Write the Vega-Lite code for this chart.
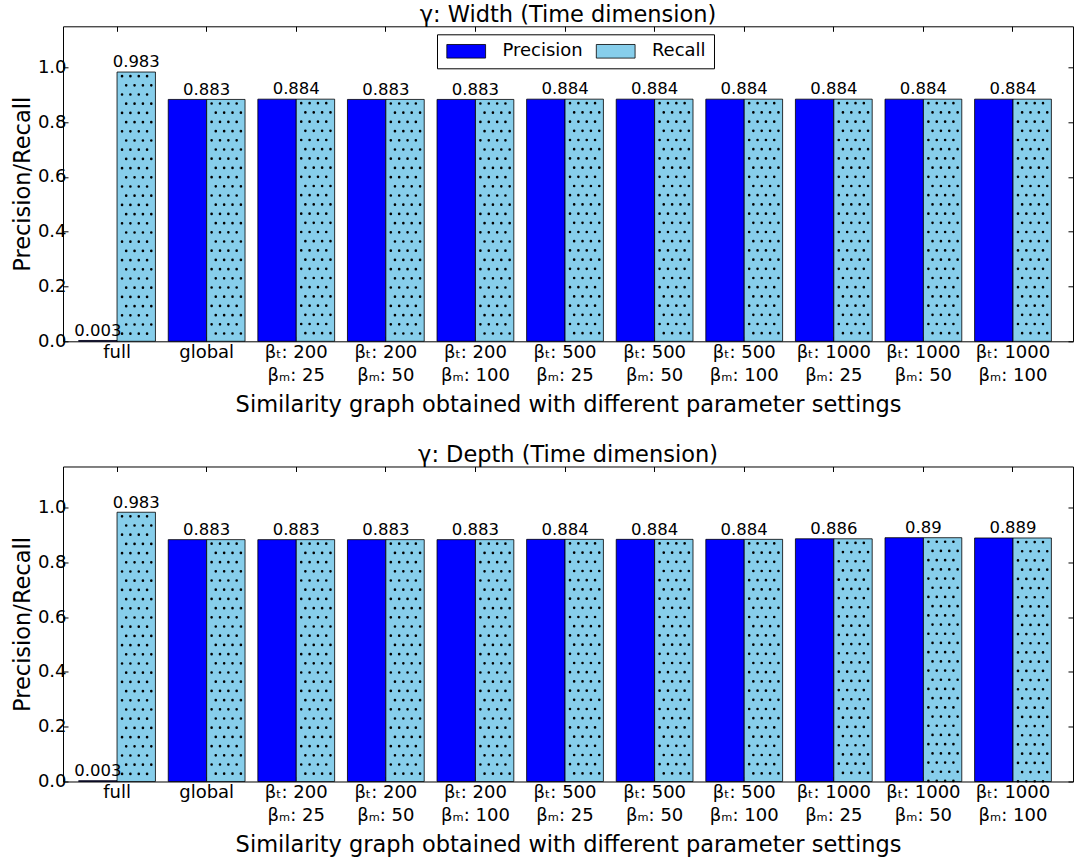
{
  "$schema": "https://vega.github.io/schema/vega-lite/v6.json",
  "padding": {"left": 10, "top": 3.3, "right": 0, "bottom": 0},
  "datasets": {
    "width": [
      {"setting": "full", "series": "Precision", "value": 0.003},
      {"setting": "full", "series": "Recall", "value": 0.983},
      {"setting": "global", "series": "Precision", "value": 0.883},
      {"setting": "global", "series": "Recall", "value": 0.883},
      {"setting": "βₜ: 200\nβₘ: 25", "series": "Precision", "value": 0.884},
      {"setting": "βₜ: 200\nβₘ: 25", "series": "Recall", "value": 0.884},
      {"setting": "βₜ: 200\nβₘ: 50", "series": "Precision", "value": 0.883},
      {"setting": "βₜ: 200\nβₘ: 50", "series": "Recall", "value": 0.883},
      {"setting": "βₜ: 200\nβₘ: 100", "series": "Precision", "value": 0.883},
      {"setting": "βₜ: 200\nβₘ: 100", "series": "Recall", "value": 0.883},
      {"setting": "βₜ: 500\nβₘ: 25", "series": "Precision", "value": 0.884},
      {"setting": "βₜ: 500\nβₘ: 25", "series": "Recall", "value": 0.884},
      {"setting": "βₜ: 500\nβₘ: 50", "series": "Precision", "value": 0.884},
      {"setting": "βₜ: 500\nβₘ: 50", "series": "Recall", "value": 0.884},
      {"setting": "βₜ: 500\nβₘ: 100", "series": "Precision", "value": 0.884},
      {"setting": "βₜ: 500\nβₘ: 100", "series": "Recall", "value": 0.884},
      {"setting": "βₜ: 1000\nβₘ: 25", "series": "Precision", "value": 0.884},
      {"setting": "βₜ: 1000\nβₘ: 25", "series": "Recall", "value": 0.884},
      {"setting": "βₜ: 1000\nβₘ: 50", "series": "Precision", "value": 0.884},
      {"setting": "βₜ: 1000\nβₘ: 50", "series": "Recall", "value": 0.884},
      {"setting": "βₜ: 1000\nβₘ: 100", "series": "Precision", "value": 0.884},
      {"setting": "βₜ: 1000\nβₘ: 100", "series": "Recall", "value": 0.884}
    ],
    "depth": [
      {"setting": "full", "series": "Precision", "value": 0.003},
      {"setting": "full", "series": "Recall", "value": 0.983},
      {"setting": "global", "series": "Precision", "value": 0.883},
      {"setting": "global", "series": "Recall", "value": 0.883},
      {"setting": "βₜ: 200\nβₘ: 25", "series": "Precision", "value": 0.883},
      {"setting": "βₜ: 200\nβₘ: 25", "series": "Recall", "value": 0.883},
      {"setting": "βₜ: 200\nβₘ: 50", "series": "Precision", "value": 0.883},
      {"setting": "βₜ: 200\nβₘ: 50", "series": "Recall", "value": 0.883},
      {"setting": "βₜ: 200\nβₘ: 100", "series": "Precision", "value": 0.883},
      {"setting": "βₜ: 200\nβₘ: 100", "series": "Recall", "value": 0.883},
      {"setting": "βₜ: 500\nβₘ: 25", "series": "Precision", "value": 0.884},
      {"setting": "βₜ: 500\nβₘ: 25", "series": "Recall", "value": 0.884},
      {"setting": "βₜ: 500\nβₘ: 50", "series": "Precision", "value": 0.884},
      {"setting": "βₜ: 500\nβₘ: 50", "series": "Recall", "value": 0.884},
      {"setting": "βₜ: 500\nβₘ: 100", "series": "Precision", "value": 0.884},
      {"setting": "βₜ: 500\nβₘ: 100", "series": "Recall", "value": 0.884},
      {"setting": "βₜ: 1000\nβₘ: 25", "series": "Precision", "value": 0.886},
      {"setting": "βₜ: 1000\nβₘ: 25", "series": "Recall", "value": 0.886},
      {"setting": "βₜ: 1000\nβₘ: 50", "series": "Precision", "value": 0.89},
      {"setting": "βₜ: 1000\nβₘ: 50", "series": "Recall", "value": 0.89},
      {"setting": "βₜ: 1000\nβₘ: 100", "series": "Precision", "value": 0.889},
      {"setting": "βₜ: 1000\nβₘ: 100", "series": "Recall", "value": 0.889}
    ]
  },
  "config": {
    "font": "DejaVu Sans",
    "view": {"stroke": "black", "strokeWidth": 1},
    "axis": {
      "grid": false,
      "labelFont": "DejaVu Sans",
      "titleFont": "DejaVu Sans",
      "labelColor": "black",
      "titleColor": "black",
      "tickColor": "black",
      "titleFontWeight": "normal",
      "labelFontSize": 18,
      "titleFontSize": 22.5
    },
    "title": {"font": "DejaVu Sans", "fontSize": 22.5, "fontWeight": "normal", "color": "black", "offset": -0.9},
    "legend": {"labelFont": "DejaVu Sans"}
  },
  "spacing": 27.2,
  "resolve": {"legend": {"color": "independent"}},
  "vconcat": [
    {
      "title": {"text": "γ: Width (Time dimension)"},
      "width": 1010,
      "height": 315,
      "data": {"name": "width"},
      "resolve": {"axis": {"x": "independent", "y": "independent"}},
      "layer": [
        {
          "mark": {"type": "bar", "stroke": "black", "strokeWidth": 0.8},
          "encoding": {
            "x": {
              "field": "setting", "type": "nominal",
              "scale": {"domain": ["full", "global", "βₜ: 200\nβₘ: 25", "βₜ: 200\nβₘ: 50", "βₜ: 200\nβₘ: 100", "βₜ: 500\nβₘ: 25", "βₜ: 500\nβₘ: 50", "βₜ: 500\nβₘ: 100", "βₜ: 1000\nβₘ: 25", "βₜ: 1000\nβₘ: 50", "βₜ: 1000\nβₘ: 100"], "paddingInner": 0.143, "paddingOuter": 0.208, "align": 0.42},
              "axis": {"title": "Similarity graph obtained with different parameter settings", "labelAngle": 0, "labelExpr": "split(datum.value, '\\n')", "labelLineHeight": 23, "labelBaseline": "top", "labelPadding": 7, "tickSize": -5, "domain": false, "titlePadding": 9}
            },
            "xOffset": {"field": "series", "type": "nominal", "scale": {"domain": ["Precision", "Recall"]}},
            "y": {
              "field": "value", "type": "quantitative",
              "scale": {"domain": [0, 1.15], "nice": false},
              "axis": {"title": "Precision/Recall", "values": [0, 0.2, 0.4, 0.6, 0.8, 1.0], "format": ".1f", "tickSize": -5, "labelPadding": 2, "domain": false, "titlePadding": 3}
            },
            "color": {
              "field": "series", "type": "nominal",
              "scale": {"domain": ["Precision", "Recall"], "range": ["#0000ff", "#87ceeb"]},
              "legend": {"title": null, "orient": "none", "legendX": 374, "legendY": 8, "direction": "horizontal", "columns": 2, "columnPadding": 11.5, "symbolOffset": 12.2, "labelOffset": 27.2, "labelFontSize": 18, "labelColor": "black", "symbolType": "M-2.85,-1H2.85V1H-2.85Z", "symbolSize": 185, "symbolStrokeColor": "black", "symbolStrokeWidth": 0.8, "symbolOpacity": 1, "strokeColor": "black", "fillColor": "white", "padding": 8, "cornerRadius": 0}
            }
          }
        },
        {"transform": [{"filter": "datum.series === 'Recall'"}], "mark": {"type": "rule", "color": "#000000", "strokeWidth": 2.6, "strokeCap": "round", "strokeDash": [0.1, 18.3], "strokeDashOffset": 14.4}, "encoding": {"x": {"field": "setting", "type": "nominal", "bandPosition": 0.565, "axis": null}, "y": {"field": "value", "type": "quantitative", "axis": null}, "y2": {"datum": 0}}},
        {"transform": [{"filter": "datum.series === 'Recall'"}], "mark": {"type": "rule", "color": "#000000", "strokeWidth": 2.6, "strokeCap": "round", "strokeDash": [0.1, 18.3], "strokeDashOffset": 5.2}, "encoding": {"x": {"field": "setting", "type": "nominal", "bandPosition": 0.619, "axis": null}, "y": {"field": "value", "type": "quantitative", "axis": null}, "y2": {"datum": 0}}},
        {"transform": [{"filter": "datum.series === 'Recall'"}], "mark": {"type": "rule", "color": "#000000", "strokeWidth": 2.6, "strokeCap": "round", "strokeDash": [0.1, 18.3], "strokeDashOffset": 14.4}, "encoding": {"x": {"field": "setting", "type": "nominal", "bandPosition": 0.674, "axis": null}, "y": {"field": "value", "type": "quantitative", "axis": null}, "y2": {"datum": 0}}},
        {"transform": [{"filter": "datum.series === 'Recall'"}], "mark": {"type": "rule", "color": "#000000", "strokeWidth": 2.6, "strokeCap": "round", "strokeDash": [0.1, 18.3], "strokeDashOffset": 5.2}, "encoding": {"x": {"field": "setting", "type": "nominal", "bandPosition": 0.728, "axis": null}, "y": {"field": "value", "type": "quantitative", "axis": null}, "y2": {"datum": 0}}},
        {"transform": [{"filter": "datum.series === 'Recall'"}], "mark": {"type": "rule", "color": "#000000", "strokeWidth": 2.6, "strokeCap": "round", "strokeDash": [0.1, 18.3], "strokeDashOffset": 14.4}, "encoding": {"x": {"field": "setting", "type": "nominal", "bandPosition": 0.783, "axis": null}, "y": {"field": "value", "type": "quantitative", "axis": null}, "y2": {"datum": 0}}},
        {"transform": [{"filter": "datum.series === 'Recall'"}], "mark": {"type": "rule", "color": "#000000", "strokeWidth": 2.6, "strokeCap": "round", "strokeDash": [0.1, 18.3], "strokeDashOffset": 5.2}, "encoding": {"x": {"field": "setting", "type": "nominal", "bandPosition": 0.837, "axis": null}, "y": {"field": "value", "type": "quantitative", "axis": null}, "y2": {"datum": 0}}},
        {"transform": [{"filter": "datum.series === 'Recall'"}], "mark": {"type": "rule", "color": "#000000", "strokeWidth": 2.6, "strokeCap": "round", "strokeDash": [0.1, 18.3], "strokeDashOffset": 14.4}, "encoding": {"x": {"field": "setting", "type": "nominal", "bandPosition": 0.891, "axis": null}, "y": {"field": "value", "type": "quantitative", "axis": null}, "y2": {"datum": 0}}},
        {"transform": [{"filter": "datum.series === 'Recall'"}], "mark": {"type": "rule", "color": "#000000", "strokeWidth": 2.6, "strokeCap": "round", "strokeDash": [0.1, 18.3], "strokeDashOffset": 5.2}, "encoding": {"x": {"field": "setting", "type": "nominal", "bandPosition": 0.946, "axis": null}, "y": {"field": "value", "type": "quantitative", "axis": null}, "y2": {"datum": 0}}},
        {
          "transform": [{"filter": "datum.setting === 'full'"}],
          "mark": {"type": "text", "baseline": "alphabetic", "dy": -4.7, "fontSize": 16.5, "color": "black"},
          "encoding": {
            "x": {"field": "setting", "type": "nominal", "axis": null},
            "xOffset": {"field": "series", "type": "nominal"},
            "y": {"field": "value", "type": "quantitative", "axis": null},
            "text": {"field": "value", "type": "quantitative", "format": "~g"}
          }
        },
        {
          "transform": [{"filter": "datum.setting !== 'full' && datum.series === 'Recall'"}],
          "mark": {"type": "text", "baseline": "alphabetic", "dy": -4.7, "fontSize": 16.5, "color": "black"},
          "encoding": {
            "x": {"field": "setting", "type": "nominal", "axis": {"orient": "top", "labels": false, "title": null, "domain": false, "tickSize": -5}},
            "y": {"field": "value", "type": "quantitative", "axis": {"orient": "right", "labels": false, "title": null, "domain": false, "tickSize": -5, "values": [0, 0.2, 0.4, 0.6, 0.8, 1.0]}},
            "text": {"field": "value", "type": "quantitative", "format": "~g"}
          }
        }
      ]
    },
    {
      "title": {"text": "γ: Depth (Time dimension)"},
      "width": 1010,
      "height": 315,
      "data": {"name": "depth"},
      "resolve": {"axis": {"x": "independent", "y": "independent"}},
      "layer": [
        {
          "mark": {"type": "bar", "stroke": "black", "strokeWidth": 0.8},
          "encoding": {
            "x": {
              "field": "setting", "type": "nominal",
              "scale": {"domain": ["full", "global", "βₜ: 200\nβₘ: 25", "βₜ: 200\nβₘ: 50", "βₜ: 200\nβₘ: 100", "βₜ: 500\nβₘ: 25", "βₜ: 500\nβₘ: 50", "βₜ: 500\nβₘ: 100", "βₜ: 1000\nβₘ: 25", "βₜ: 1000\nβₘ: 50", "βₜ: 1000\nβₘ: 100"], "paddingInner": 0.143, "paddingOuter": 0.208, "align": 0.42},
              "axis": {"title": "Similarity graph obtained with different parameter settings", "labelAngle": 0, "labelExpr": "split(datum.value, '\\n')", "labelLineHeight": 23, "labelBaseline": "top", "labelPadding": 7, "tickSize": -5, "domain": false, "titlePadding": 9}
            },
            "xOffset": {"field": "series", "type": "nominal", "scale": {"domain": ["Precision", "Recall"]}},
            "y": {
              "field": "value", "type": "quantitative",
              "scale": {"domain": [0, 1.15], "nice": false},
              "axis": {"title": "Precision/Recall", "values": [0, 0.2, 0.4, 0.6, 0.8, 1.0], "format": ".1f", "tickSize": -5, "labelPadding": 2, "domain": false, "titlePadding": 3}
            },
            "color": {
              "field": "series", "type": "nominal",
              "scale": {"domain": ["Precision", "Recall"], "range": ["#0000ff", "#87ceeb"]},
              "legend": null
            }
          }
        },
        {"transform": [{"filter": "datum.series === 'Recall'"}], "mark": {"type": "rule", "color": "#000000", "strokeWidth": 2.6, "strokeCap": "round", "strokeDash": [0.1, 18.3], "strokeDashOffset": 14.4}, "encoding": {"x": {"field": "setting", "type": "nominal", "bandPosition": 0.565, "axis": null}, "y": {"field": "value", "type": "quantitative", "axis": null}, "y2": {"datum": 0}}},
        {"transform": [{"filter": "datum.series === 'Recall'"}], "mark": {"type": "rule", "color": "#000000", "strokeWidth": 2.6, "strokeCap": "round", "strokeDash": [0.1, 18.3], "strokeDashOffset": 5.2}, "encoding": {"x": {"field": "setting", "type": "nominal", "bandPosition": 0.619, "axis": null}, "y": {"field": "value", "type": "quantitative", "axis": null}, "y2": {"datum": 0}}},
        {"transform": [{"filter": "datum.series === 'Recall'"}], "mark": {"type": "rule", "color": "#000000", "strokeWidth": 2.6, "strokeCap": "round", "strokeDash": [0.1, 18.3], "strokeDashOffset": 14.4}, "encoding": {"x": {"field": "setting", "type": "nominal", "bandPosition": 0.674, "axis": null}, "y": {"field": "value", "type": "quantitative", "axis": null}, "y2": {"datum": 0}}},
        {"transform": [{"filter": "datum.series === 'Recall'"}], "mark": {"type": "rule", "color": "#000000", "strokeWidth": 2.6, "strokeCap": "round", "strokeDash": [0.1, 18.3], "strokeDashOffset": 5.2}, "encoding": {"x": {"field": "setting", "type": "nominal", "bandPosition": 0.728, "axis": null}, "y": {"field": "value", "type": "quantitative", "axis": null}, "y2": {"datum": 0}}},
        {"transform": [{"filter": "datum.series === 'Recall'"}], "mark": {"type": "rule", "color": "#000000", "strokeWidth": 2.6, "strokeCap": "round", "strokeDash": [0.1, 18.3], "strokeDashOffset": 14.4}, "encoding": {"x": {"field": "setting", "type": "nominal", "bandPosition": 0.783, "axis": null}, "y": {"field": "value", "type": "quantitative", "axis": null}, "y2": {"datum": 0}}},
        {"transform": [{"filter": "datum.series === 'Recall'"}], "mark": {"type": "rule", "color": "#000000", "strokeWidth": 2.6, "strokeCap": "round", "strokeDash": [0.1, 18.3], "strokeDashOffset": 5.2}, "encoding": {"x": {"field": "setting", "type": "nominal", "bandPosition": 0.837, "axis": null}, "y": {"field": "value", "type": "quantitative", "axis": null}, "y2": {"datum": 0}}},
        {"transform": [{"filter": "datum.series === 'Recall'"}], "mark": {"type": "rule", "color": "#000000", "strokeWidth": 2.6, "strokeCap": "round", "strokeDash": [0.1, 18.3], "strokeDashOffset": 14.4}, "encoding": {"x": {"field": "setting", "type": "nominal", "bandPosition": 0.891, "axis": null}, "y": {"field": "value", "type": "quantitative", "axis": null}, "y2": {"datum": 0}}},
        {"transform": [{"filter": "datum.series === 'Recall'"}], "mark": {"type": "rule", "color": "#000000", "strokeWidth": 2.6, "strokeCap": "round", "strokeDash": [0.1, 18.3], "strokeDashOffset": 5.2}, "encoding": {"x": {"field": "setting", "type": "nominal", "bandPosition": 0.946, "axis": null}, "y": {"field": "value", "type": "quantitative", "axis": null}, "y2": {"datum": 0}}},
        {
          "transform": [{"filter": "datum.setting === 'full'"}],
          "mark": {"type": "text", "baseline": "alphabetic", "dy": -4.7, "fontSize": 16.5, "color": "black"},
          "encoding": {
            "x": {"field": "setting", "type": "nominal", "axis": null},
            "xOffset": {"field": "series", "type": "nominal"},
            "y": {"field": "value", "type": "quantitative", "axis": null},
            "text": {"field": "value", "type": "quantitative", "format": "~g"}
          }
        },
        {
          "transform": [{"filter": "datum.setting !== 'full' && datum.series === 'Recall'"}],
          "mark": {"type": "text", "baseline": "alphabetic", "dy": -4.7, "fontSize": 16.5, "color": "black"},
          "encoding": {
            "x": {"field": "setting", "type": "nominal", "axis": {"orient": "top", "labels": false, "title": null, "domain": false, "tickSize": -5}},
            "y": {"field": "value", "type": "quantitative", "axis": {"orient": "right", "labels": false, "title": null, "domain": false, "tickSize": -5, "values": [0, 0.2, 0.4, 0.6, 0.8, 1.0]}},
            "text": {"field": "value", "type": "quantitative", "format": "~g"}
          }
        }
      ]
    }
  ]
}
